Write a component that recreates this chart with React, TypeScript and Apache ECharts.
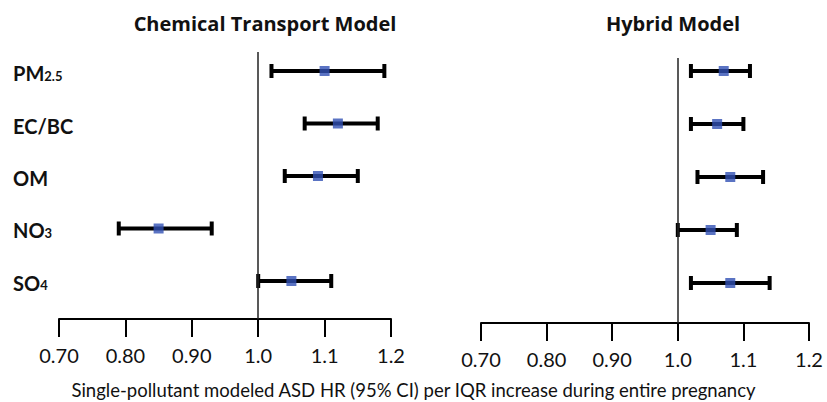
import React, { useEffect, useRef } from 'react';
import * as echarts from 'echarts';

const categories = ['PM2.5', 'EC/BC', 'OM', 'NO3', 'SO4'];
const categoryLabels = ['{b|PM}{s|2.5}', '{b|EC/BC}', '{b|OM}', '{b|NO}{s|3}', '{b|SO}{s|4}'];

const ctmEstimate = [1.10, 1.12, 1.09, 0.85, 1.05];
const ctmLower = [1.02, 1.07, 1.04, 0.79, 1.00];
const ctmUpper = [1.19, 1.18, 1.15, 0.93, 1.11];

const hybridEstimate = [1.07, 1.06, 1.08, 1.05, 1.08];
const hybridLower = [1.02, 1.02, 1.03, 1.00, 1.02];
const hybridUpper = [1.11, 1.10, 1.13, 1.09, 1.14];

const tickLabels = ['0.70', '0.80', '0.90', '1.0', '1.1', '1.2'];
const panelTitles = ['Chemical Transport Model', 'Hybrid Model'];
const axisTitle = 'Single-pollutant modeled ASD HR (95% CI) per IQR increase during entire pregnancy';

const FONT = 'Lato, "Open Sans", sans-serif';
const TITLE_FONT = '"Open Sans", Lato, sans-serif';
const BLUE = '#3150b4';

function errorBarSeries(gridIndex: number, lower: number[], upper: number[]) {
  return {
    type: 'custom',
    xAxisIndex: gridIndex,
    yAxisIndex: gridIndex,
    silent: true,
    z: 2,
    data: categories.map((_, i) => [lower[i], upper[i], i]),
    encode: { x: [0, 1], y: 2 },
    renderItem: (params: any, api: any) => {
      const p1 = api.coord([api.value(0), api.value(2)]);
      const p2 = api.coord([api.value(1), api.value(2)]);
      const cap = 7;
      const style = { stroke: '#000', lineWidth: 4 };
      return {
        type: 'group',
        children: [
          { type: 'line', shape: { x1: p1[0], y1: p1[1], x2: p2[0], y2: p2[1] }, style },
          { type: 'line', shape: { x1: p1[0], y1: p1[1] - cap, x2: p1[0], y2: p1[1] + cap }, style },
          { type: 'line', shape: { x1: p2[0], y1: p2[1] - cap, x2: p2[0], y2: p2[1] + cap }, style },
        ],
      };
    },
  };
}

function estimateSeries(gridIndex: number, est: number[]) {
  return {
    type: 'scatter',
    xAxisIndex: gridIndex,
    yAxisIndex: gridIndex,
    symbol: 'rect',
    symbolSize: 10,
    silent: true,
    z: 3,
    itemStyle: { color: BLUE },
    data: est.map((v, i) => [v, i]),
    markLine: {
      silent: true,
      symbol: ['none', 'none'],
      label: { show: false },
      lineStyle: { color: '#222', width: 1.5, type: 'solid' },
      data: [{ xAxis: 1.0 }],
    },
  };
}

function xAxis(gridIndex: number) {
  return {
    type: 'value',
    gridIndex,
    min: 0.7,
    max: 1.2,
    interval: 0.1,
    position: 'bottom',
    axisLine: { show: true, onZero: false, lineStyle: { color: '#000', width: 2 } },
    axisTick: { show: true, inside: false, length: 18, lineStyle: { color: '#000', width: 2 } },
    splitLine: { show: false },
    axisLabel: {
      show: true,
      margin: 26,
      color: '#111',
      fontSize: 20,
      fontFamily: FONT,
      formatter: (v: number) => tickLabels[Math.round((v - 0.7) / 0.1)] ?? '',
    },
  };
}

function yAxis(gridIndex: number, min: number, max: number) {
  return {
    type: 'value',
    gridIndex,
    inverse: true,
    min,
    max,
    show: false,
    splitLine: { show: false },
  };
}

export default function App() {
  const ref = useRef<HTMLDivElement>(null);
  useEffect(() => {
    if (!ref.current) return;
    const chart = echarts.init(ref.current, undefined, { renderer: 'svg' });
    chart.setOption({
      animation: false,
      backgroundColor: '#fff',
      title: [
        {
          text: panelTitles[0],
          left: 260,
          top: 8,
          textAlign: 'center',
          textStyle: { fontFamily: TITLE_FONT, fontWeight: 'bold', fontSize: 20, color: '#111' },
        },
        {
          text: panelTitles[1],
          left: 668,
          top: 8,
          textAlign: 'center',
          textStyle: { fontFamily: TITLE_FONT, fontWeight: 'bold', fontSize: 20, color: '#111' },
        },
        {
          text: axisTitle,
          left: 'center',
          top: 375,
          textStyle: { fontFamily: FONT, fontWeight: 'normal', fontSize: 18.5, color: '#111' },
        },
      ],
      grid: [
        { left: 59, width: 332, top: 52, bottom: 83 },
        { left: 481, width: 328, top: 58, bottom: 79 },
      ],
      xAxis: [xAxis(0), xAxis(1)],
      yAxis: [yAxis(0, -0.362, 4.724), yAxis(1, -0.245, 4.755)],
      series: [
        errorBarSeries(0, ctmLower, ctmUpper),
        estimateSeries(0, ctmEstimate),
        errorBarSeries(1, hybridLower, hybridUpper),
        estimateSeries(1, hybridEstimate),
        {
          type: 'custom',
          xAxisIndex: 0,
          yAxisIndex: 0,
          silent: true,
          data: categories.map((_, i) => [0.7, i]),
          renderItem: (params: any, api: any) => {
            const p = api.coord([api.value(0), api.value(1)]);
            return {
              type: 'text',
              x: p[0] - 46,
              y: p[1],
              style: {
                text: categoryLabels[params.dataIndex],
                align: 'left',
                verticalAlign: 'middle',
                fill: '#111',
                rich: {
                  b: { fontFamily: FONT, fontWeight: 'bold', fontSize: 20, lineHeight: 24, fill: '#111', verticalAlign: 'bottom' },
                  s: { fontFamily: FONT, fontWeight: 'bold', fontSize: 13, lineHeight: 24, fill: '#111', verticalAlign: 'bottom', padding: [0, 0, 1, 0] },
                },
              },
            };
          },
        },
      ],
    });
    return () => chart.dispose();
  }, []);
  return (
    <div
      ref={ref}
      style={{ position: 'absolute', left: 0, top: 0, width: 827, height: 402 }}
    />
  );
}
